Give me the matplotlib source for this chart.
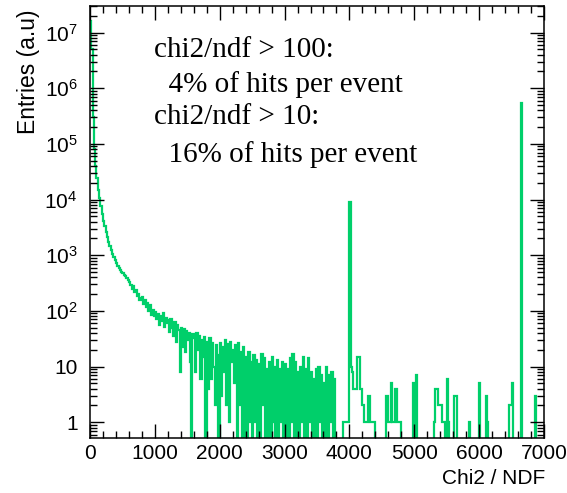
import numpy as np
import matplotlib
matplotlib.use("Agg")
import matplotlib.pyplot as plt
from matplotlib.ticker import FixedLocator, FuncFormatter, LogLocator, MultipleLocator

plt.rcParams['font.family'] = 'Liberation Sans'
plt.rcParams['mathtext.fontset'] = 'custom'
plt.rcParams['mathtext.rm'] = 'Liberation Sans'
plt.rcParams['mathtext.it'] = 'Liberation Sans:italic'

# histogram: 350 bins of width 20 between 0 and 7000
bin_lo = 0
bin_hi = 7000
counts_head = [
    # 0-1000
    1.6e7, 5.0e6, 3.0e5, 8.0e4, 4.0e4, 2.4e4, 1.5e4, 1.05e4, 7500, 5600,
    4200, 3300, 2600, 2100, 1750, 1450, 1250, 1050, 920, 820,
    720, 650, 600, 540, 500, 470, 450, 420, 390, 360,
    330, 290, 250, 275, 215, 235, 185, 205, 160, 170,
    175, 135, 155, 115, 140, 100, 125, 85, 105, 80,
]
counts_noisy = [
    # 1000-3800
    95, 70, 88, 55, 82, 66, 90, 52, 75, 60,
    68, 42, 72, 50, 35, 62, 28, 55, 45, 8,
    50, 22, 48, 18, 44, 30, 40, 12, 0, 38,
    32, 8, 40, 20, 36, 6, 30, 15, 34, 0,
    28, 4, 32, 6, 26, 10, 2, 24, 16, 0,
    26, 3, 22, 8, 30, 2, 25, 1, 28, 12,
    20, 5, 24, 0, 27, 2, 18, 0, 22, 0,
    15, 0, 18, 1, 12, 0, 16, 1, 13, 0,
    11, 0, 17, 2, 14, 0, 9, 0, 12, 0,
    15, 1, 10, 0, 13, 0, 9, 1, 12, 0,
    11, 0, 9, 0, 14, 1, 17, 0, 12, 0,
    8, 0, 10, 1, 15, 0, 9, 0, 14, 1,
    8, 0, 6, 0, 9, 0, 10, 1, 7, 0,
    5, 0, 10, 0, 7, 1, 8, 0, 6, 0,
]
counts_tail = [
    # 3800-7000
    0, 0, 0, 0, 0, 1, 1, 1, 1, 1,
    8900, 10, 8, 4, 4, 4, 15, 15, 4, 4,
    2, 1, 1, 1, 3, 3, 1, 1, 1, 1,
    0, 0, 0, 0, 0, 0, 0, 0, 3, 3,
    1, 1, 5, 1, 1, 4, 4, 1, 1, 1,
    0, 0, 0, 0, 0, 0, 0, 0, 0, 5,
    0, 7, 0, 0, 0, 0, 0, 0, 0, 0,
    0, 0, 0, 0, 0, 1, 4, 4, 2, 2,
    2, 1, 1, 1, 0, 6, 1, 0, 0, 0,
    0, 3, 3, 0, 0, 0, 0, 0, 0, 0,
    0, 0, 1, 0, 0, 0, 0, 0, 0, 0,
    5, 0, 0, 0, 0, 3, 1, 0, 0, 0,
    0, 0, 0, 0, 0, 0, 0, 0, 0, 0,
    0, 0, 0, 2, 2, 5, 0, 0, 0, 0,
    0, 0, 5.4e5, 0, 0, 0, 0, 0, 0, 0,
    0, 0, 0, 3, 0, 0, 0, 0, 0, 0,
]
note_lines = ["chi2/ndf > 100:", "  4% of hits per event",
              "chi2/ndf > 10:", "  16% of hits per event"]

counts = np.array(counts_head + counts_noisy + counts_tail, dtype=float)
edges = np.linspace(bin_lo, bin_hi, len(counts) + 1)

fig = plt.figure(figsize=(5.67, 4.93), dpi=100)
ax = fig.add_axes([90 / 567, 55 / 493, 454 / 567, 432 / 493])
ax.set_yscale('log', nonpositive='clip')
ax.stairs(counts, edges, color='#00cf6a', lw=1.6, baseline=None)
ax.set_xlim(bin_lo, bin_hi)
ax.set_ylim(0.52, 3.0e7)

ax.xaxis.set_major_locator(MultipleLocator(1000))
ax.xaxis.set_minor_locator(MultipleLocator(200))
ax.yaxis.set_major_locator(FixedLocator([10.0 ** k for k in range(0, 8)]))
ax.yaxis.set_minor_locator(LogLocator(base=10, subs=np.arange(2, 10), numticks=20))


def ylab(v, pos):
    k = int(round(np.log10(v)))
    if k == 0:
        return '1'
    if k == 1:
        return '10'
    return r'$10^{%d}$' % k


ax.yaxis.set_major_formatter(FuncFormatter(ylab))
ax.tick_params(which='both', direction='in', top=True, right=True, width=1.0, color='black')
ax.tick_params(which='major', length=10)
ax.tick_params(which='minor', length=5)
ax.tick_params(axis='x', which='major', labelsize=15, pad=4)
ax.tick_params(axis='y', which='major', labelsize=15, pad=9)
for s in ax.spines.values():
    s.set_linewidth(1.1)

fig.text(545 / 567, 1 - 478 / 493, 'Chi2 / NDF', ha='right', va='center', fontsize=15)
fig.text(28 / 567, 1 - 9 / 493, 'Entries (a.u)', ha='center', va='top', rotation=90, fontsize=16.5)

note_x = [154, 154, 154, 154]
note_y = [57, 92, 124, 162]
for txt, nx, ny in zip(note_lines, note_x, note_y):
    fig.text(nx / 567, 1 - ny / 493, txt, ha='left', va='baseline',
             family='Liberation Serif', fontsize=21)

fig.savefig('out.png', dpi=100)
